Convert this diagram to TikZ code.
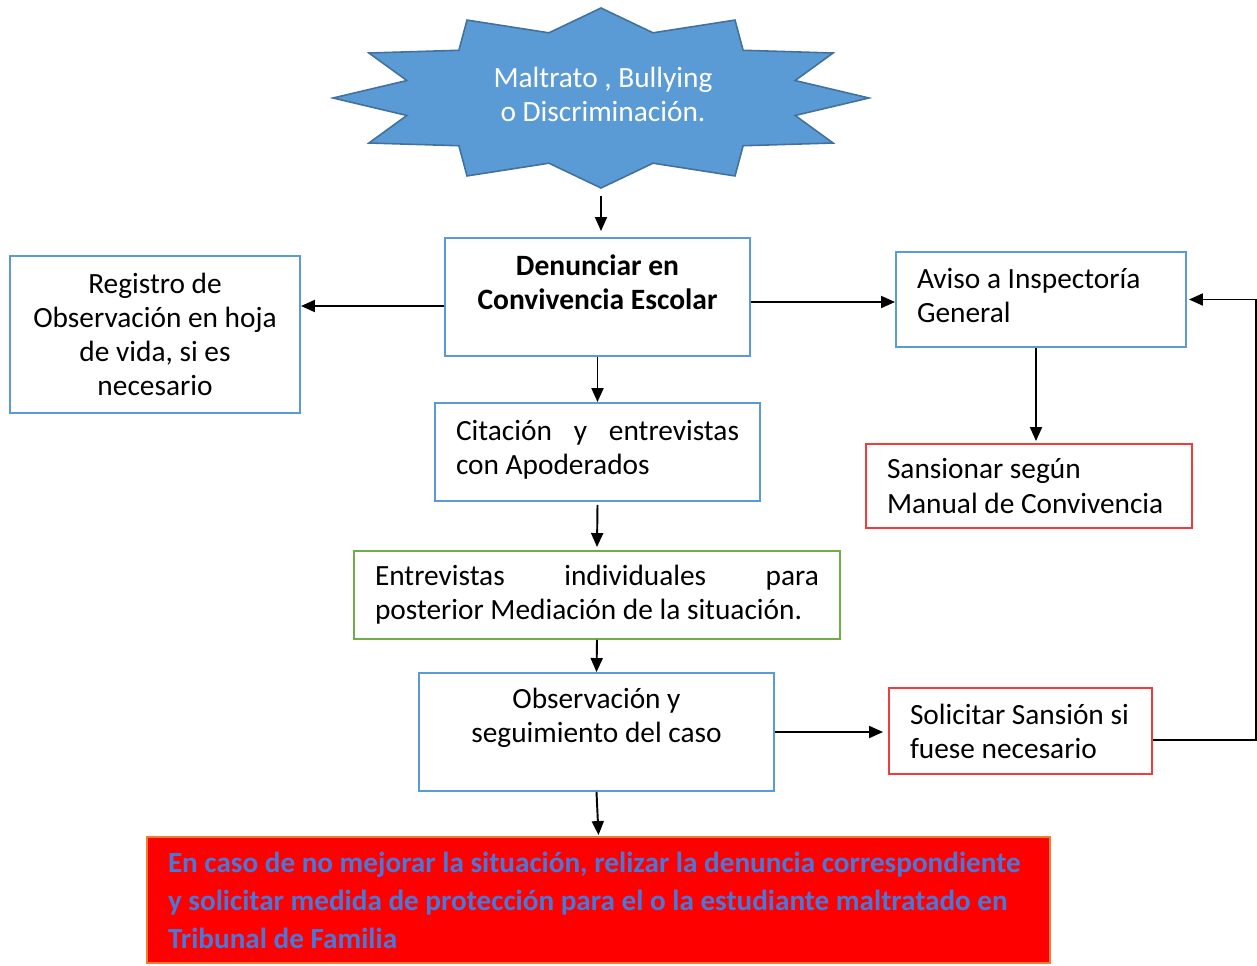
\documentclass[tikz,border=0pt]{standalone}
\usepackage{fontspec}
\setmainfont{Carlito}
\usetikzlibrary{arrows.meta}

\definecolor{cajaazul}{HTML}{5B9BD5}
\definecolor{estrellaborde}{HTML}{41719C}
\definecolor{cajaverde}{HTML}{70AD47}
\definecolor{cajaroja}{HTML}{F23C3C}
\definecolor{alertaborde}{HTML}{ED7D31}
\definecolor{alertatexto}{HTML}{4A78D8}

\tikzset{
    caja/.style={rectangle, draw=cajaazul, line width=1.1pt, inner xsep=0.42cm, inner ysep=0pt,
        font=\fontsize{16.7}{19.4}\selectfont},
    cajav/.style={caja, draw=cajaverde},
    cajar/.style={caja, draw=cajaroja},
    alerta/.style={rectangle, fill=red, draw=alertaborde, line width=1.1pt, inner xsep=0.42cm,
        inner ysep=0pt, text=alertatexto, font=\fontsize{16.6}{21.6}\selectfont\bfseries},
    estrella/.style={fill=cajaazul, draw=estrellaborde, line width=0.9pt, line join=miter}
}

\begin{document}
\begin{tikzpicture}[>={Triangle[length=2.8mm, width=2.4mm]}, line width=1.1pt]
    \useasboundingbox (0, 0) rectangle (25.14, -19.3);

    \begin{scope}[shift={(12.02, -1.96)}]
        \draw[estrella] (0:5.36 and 1.8)
            \foreach \a in {0, 30, ..., 330} { -- (\a:5.36 and 1.8) -- (\a+15:4.02 and 1.35) } -- cycle;
        \coordinate (puntaest) at (0, -1.88);
    \end{scope}
    \node (dano) [text=white, align=center, font=\fontsize{16.7}{19.4}\selectfont] at (12.06, -1.88) {Maltrato , Bullying\\o Discriminación.};

    \node (den) [caja, align=flush center, text width=5.26cm, minimum height=2.36cm, text depth=1.26cm, font=\fontsize{16.8}{19.4}\selectfont\bfseries] at (11.95, -5.94) {Denunciar en\\Convivencia Escolar};
    \node (reg) [caja, align=flush center, text width=4.96cm, minimum height=3.14cm] at (3.1, -6.69) {Registro de\\Observación en hoja\\de vida, si es\\necesario};
    \node (avi) [caja, align=flush left, text width=4.96cm, minimum height=1.9cm, text depth=0.86cm] at (20.82, -5.99) {Aviso a Inspectoría\\General};
    \node (cit) [caja, align=flush left, text width=5.66cm, minimum height=1.96cm, text depth=0.87cm] at (11.95, -9.04) {Citación \hfill y \hfill entrevistas\\con Apoderados};
    \node (san) [cajar, align=flush left, text width=5.68cm, minimum height=1.68cm] at (20.58, -9.72) {Sansionar según\\Manual de Convivencia};
    \node (ent) [cajav, align=flush left, text width=8.88cm, minimum height=1.76cm] at (11.94, -11.9) {Entrevistas \hfill individuales \hfill para\\posterior Mediación de la situación.};
    \node (obs) [caja, align=flush center, text width=6.26cm, minimum height=2.36cm, text depth=1.36cm] at (11.93, -14.64) {Observación y\\seguimiento del caso};
    \node (sol) [cajar, align=flush left, text width=4.42cm, minimum height=1.72cm] at (20.41, -14.62) {Solicitar Sansión si\\fuese necesario};
    \node (tri) [alerta, align=flush left, text width=17.22cm, minimum height=2.52cm] at (11.97, -18.0) {En caso de no mejorar la situación, relizar la denuncia correspondiente\\y solicitar medida de protección para el o la estudiante maltratado en\\Tribunal de Familia};

    % Pfeile zeichnen
    \draw[->] ([yshift=-0.08cm]puntaest) -- ([yshift=0.12cm]puntaest |- den.north);
    \draw[->] ([yshift=-0.18cm]den.west) -- ([yshift=-0.18cm]den.west -| reg.east);
    \draw[->] ([yshift=-0.1cm]den.east) -- ([yshift=-0.1cm]den.east -| avi.west);
    \draw[->] (den.south) -- (cit.north);
    \draw[->] ([xshift=-0.1cm]avi.south) -- ([xshift=-0.1cm, yshift=0.04cm]avi.south |- san.north);
    \draw[->] ([yshift=-0.06cm]cit.south) -- ([yshift=0.06cm]ent.north);
    \draw[->] (ent.south) -- (obs.north);
    \draw[->] (obs.east) -- ([xshift=-0.1cm]obs.east -| sol.west);
    \draw[->] (obs.south) -- ([yshift=0.02cm]tri.north);
    \draw[->] ([yshift=-0.18cm]sol.east) -- ++(2.06, 0) |- ([xshift=0.04cm]avi.east);
\end{tikzpicture}
\end{document}
